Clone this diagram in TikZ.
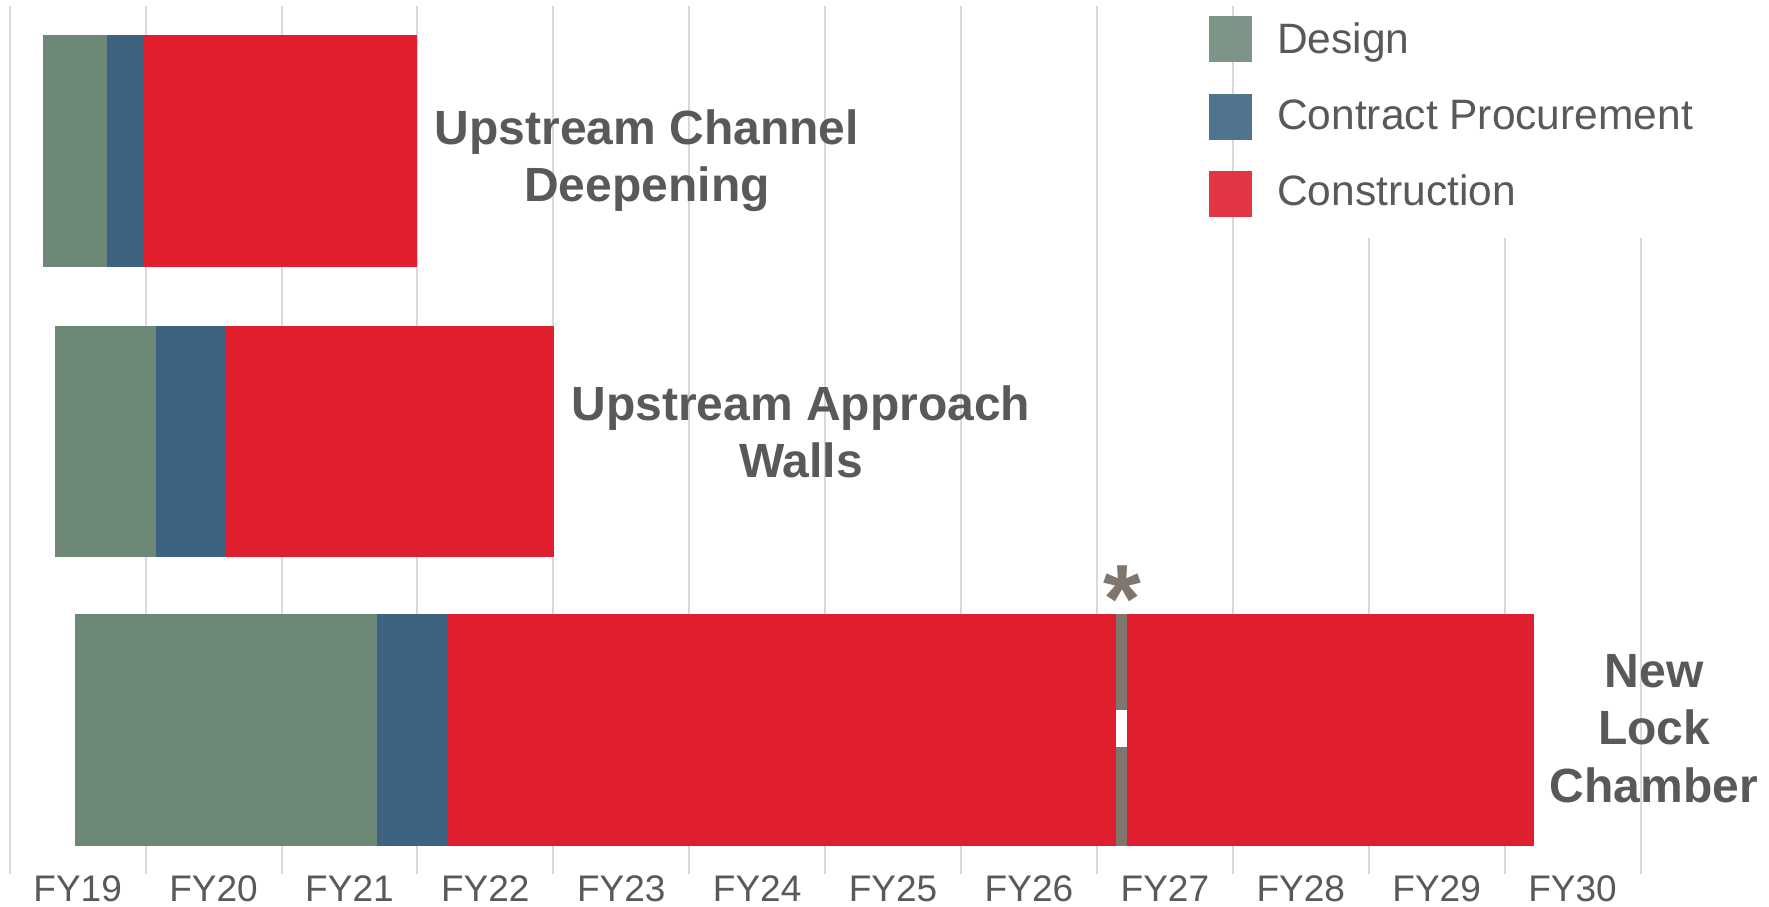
\documentclass[tikz,border=0pt]{standalone}
\usepackage{fontspec}
\setmainfont{Liberation Sans}
\definecolor{designbar}{RGB}{110,136,120}
\definecolor{procbar}{RGB}{62,99,128}
\definecolor{buildbar}{RGB}{223,31,46}
\definecolor{designkey}{RGB}{126,148,134}
\definecolor{prockey}{RGB}{81,116,142}
\definecolor{buildkey}{RGB}{227,54,69}
\definecolor{markgrey}{RGB}{127,119,110}
\definecolor{txtgrey}{RGB}{89,89,89}
\definecolor{gridgrey}{RGB}{217,217,217}
\begin{document}
\begin{tikzpicture}[x=1pt,y=-1pt,
  gridline/.style={draw=gridgrey,line width=2pt},
  axislabel/.style={text=txtgrey,font=\fontsize{37}{44}\selectfont,inner sep=0pt,anchor=base},
  keylabel/.style={text=txtgrey,font=\fontsize{42.5}{50}\selectfont,inner sep=0pt,anchor=base west},
  tasklabel/.style={text=txtgrey,font=\bfseries\fontsize{48}{57.5}\selectfont,inner sep=0pt,anchor=base,align=center}]
\useasboundingbox (0,0) rectangle (1769,906);
\fill[white] (0,0) rectangle (1769,906);

% vertical year grid
\foreach \i in {0,...,12}
  \draw[gridline] ({9.7+135.9*\i},6) -- ({9.7+135.9*\i},874);

% fiscal-year labels, centred between grid lines
\foreach \n [count=\i from 0] in {19,...,30}
  \node[axislabel] (fy\n) at ({77.65+135.9*\i},901) {FY\n};

% Upstream Channel Deepening
\fill[designbar] (43,35) rectangle (107,266.7);
\fill[procbar]   (107,35) rectangle (143.7,266.7);
\fill[buildbar]  (143.7,35) rectangle (417.4,266.7);

% Upstream Approach Walls
\fill[designbar] (55,325.8) rectangle (156,557.3);
\fill[procbar]   (156,325.8) rectangle (224.8,557.3);
\fill[buildbar]  (224.8,325.8) rectangle (553.5,557.3);

% New Lock Chamber, with the interruption marker
\fill[designbar] (74.8,613.5) rectangle (377.2,845.7);
\fill[procbar]   (377.2,613.5) rectangle (446.5,845.7);
\fill[buildbar]  (446.5,613.5) rectangle (1115.6,845.7);
\fill[markgrey]  (1115.6,613.5) rectangle (1127.4,710);
\fill[markgrey]  (1115.6,747) rectangle (1127.4,845.7);
\fill[buildbar]  (1127.4,613.5) rectangle (1534.2,845.7);
\node[text=markgrey,font=\bfseries\fontsize{97}{97}\selectfont,inner sep=0pt,anchor=base] (star) at (1122,632) {*};

% task names (base anchor sits on the last line)
\node[tasklabel] (ucd) at (647,201.8) {Upstream Channel\\Deepening};
\node[tasklabel] (uaw) at (801,477.5) {Upstream Approach\\Walls};
\node[tasklabel] (nlc) at (1654,802) {New\\Lock\\Chamber};

% legend
\fill[white] (1252,0) rectangle (1769,238);
\fill[designkey] (1209,16) rectangle (1252,62);
\fill[prockey]   (1209,94) rectangle (1252,140);
\fill[buildkey]  (1209,171) rectangle (1252,217);
\node[keylabel] (kdesign) at (1277,53) {Design};
\node[keylabel] (kproc)   at (1277,129) {Contract Procurement};
\node[keylabel] (kbuild)  at (1277,205) {Construction};
\end{tikzpicture}
\end{document}
